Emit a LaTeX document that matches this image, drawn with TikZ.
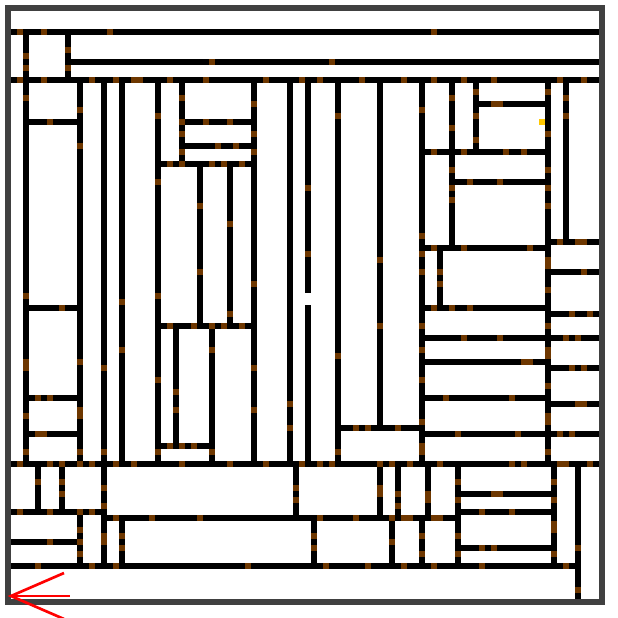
\documentclass[tikz,border=0pt]{standalone}
\usetikzlibrary{positioning}
\definecolor{DoorBrown}{RGB}{110,55,0}
\definecolor{RimGrey}{RGB}{64,64,64}
\definecolor{KeyGold}{RGB}{255,200,0}
\begin{document}
\begin{tikzpicture}[x=0.18cm, y=-0.18cm,
  wall/.style={line width=0.18cm, line cap=rect},
  door/.style={fill=DoorBrown, minimum size=0.18cm, inner sep=0pt},
  rim/.style={draw=RimGrey, line width=0.18cm}]
  \useasboundingbox (-1.3333,-1.3333) rectangle (101.6667,101.6667);
  % Horizontal walls (one unit = one cell)
  \draw[wall] (1,4) -- (98,4) (11,9) -- (98,9) (1,12) -- (98,12)
    (4,19) -- (11,19) (30,19) -- (40,19) (30,23) -- (40,23) (26,26) -- (40,26)
    (79,16) -- (89,16) (70,24) -- (89,24) (75,29) -- (89,29)
    (91,39) -- (98,39) (70,40) -- (89,40) (91,44) -- (98,44)
    (4,50) -- (11,50) (70,50) -- (89,50) (91,51) -- (98,51) (26,53) -- (40,53)
    (70,55) -- (98,55) (70,59) -- (89,59) (91,60) -- (98,60)
    (4,65) -- (11,65) (70,65) -- (89,65) (91,66) -- (98,66)
    (56,70) -- (68,70) (4,71) -- (11,71) (70,71) -- (98,71) (26,73) -- (33,73)
    (1,76) -- (98,76) (76,81) -- (90,81) (1,84) -- (16,84) (76,84) -- (90,84)
    (16,85) -- (75,85) (1,89) -- (11,89) (76,90) -- (90,90) (1,93) -- (94,93);
  % Vertical walls
  \draw[wall] (3,4) -- (3,76) (10,4) -- (10,12) (12,12) -- (12,76) (16,12) -- (16,93)
    (19,12) -- (19,76) (25,12) -- (25,76) (29,12) -- (29,26)
    (32,26) -- (32,53) (37,26) -- (37,53) (28,53) -- (28,73) (34,53) -- (34,76)
    (41,12) -- (41,76) (47,12) -- (47,76) (50,12) -- (50,47) (50,50) -- (50,76)
    (55,12) -- (55,76) (62,12) -- (62,70) (69,12) -- (69,76)
    (74,12) -- (74,40) (78,12) -- (78,24) (72,40) -- (72,50)
    (90,12) -- (90,76) (93,12) -- (93,39)
    (5,76) -- (5,84) (9,76) -- (9,84) (48,76) -- (48,85) (62,76) -- (62,85)
    (65,76) -- (65,85) (70,76) -- (70,85) (75,76) -- (75,93) (91,76) -- (91,93)
    (95,76) -- (95,98) (12,85) -- (12,93) (19,85) -- (19,93) (51,85) -- (51,93)
    (64,85) -- (64,93) (69,85) -- (69,93);
  % Doors in the horizontal walls
  \foreach \c in {2,6,17,71} \node[door] at (\c,4) {};
  \foreach \c in {34,54} \node[door] at (\c,9) {};
  \foreach \c in {2,6,14,18,21,22,27,33,43,49,52,59,66,71,76,81,92,96} \node[door] at (\c,12) {};
  \foreach \c in {81,82} \node[door] at (\c,16) {};
  \foreach \c in {7,33,37} \node[door] at (\c,19) {};
  \foreach \c in {35,38} \node[door] at (\c,23) {};
  \foreach \c in {71,76,83,86} \node[door] at (\c,24) {};
  \foreach \c in {27,29,34,36,39} \node[door] at (\c,26) {};
  \foreach \c in {77,82} \node[door] at (\c,29) {};
  \foreach \c in {92,95,96} \node[door] at (\c,39) {};
  \foreach \c in {71,76,87} \node[door] at (\c,40) {};
  \node[door] at (96,44) {};
  \foreach \c in {9,71,74,77} \node[door] at (\c,50) {};
  \foreach \c in {94,97} \node[door] at (\c,51) {};
  \foreach \c in {27,31,34,36,39} \node[door] at (\c,53) {};
  \foreach \c in {76,82,93,95} \node[door] at (\c,55) {};
  \foreach \c in {86,87} \node[door] at (\c,59) {};
  \foreach \c in {94,96} \node[door] at (\c,60) {};
  \foreach \c in {5,7,73,84} \node[door] at (\c,65) {};
  \foreach \c in {95,96} \node[door] at (\c,66) {};
  \foreach \c in {58,60,65} \node[door] at (\c,70) {};
  \foreach \c in {5,6,75,85,92,94} \node[door] at (\c,71) {};
  \foreach \c in {27,29,31} \node[door] at (\c,73) {};
  \foreach \c in {2,7,9,12,14,18,21,29,37,43,49,52,54,62,64,67,72,84,86,92,93,97} \node[door] at (\c,76) {};
  \foreach \c in {81,82} \node[door] at (\c,81) {};
  \foreach \c in {2,7,12,14,79,84} \node[door] at (\c,84) {};
  \foreach \c in {18,24,32,52,58,64,66,67,71,72} \node[door] at (\c,85) {};
  \node[door] at (7,89) {};
  \foreach \c in {79,81} \node[door] at (\c,90) {};
  \foreach \c in {5,14,18,40,53,60,66,71,79,93} \node[door] at (\c,93) {};
  % Doors in the vertical walls
  \foreach \r in {8,10,15,48,59,60,68,74} \node[door] at (3,\r) {};
  \foreach \r in {79} \node[door] at (5,\r) {};
  \foreach \r in {79,81} \node[door] at (9,\r) {};
  \foreach \r in {7,10} \node[door] at (10,\r) {};
  \foreach \r in {17,23,59,67,68,74,87,89,91} \node[door] at (12,\r) {};
  \foreach \r in {60,74,80,83,88,89} \node[door] at (16,\r) {};
  \foreach \r in {49,57,88,90} \node[door] at (19,\r) {};
  \foreach \r in {18,29,48,62,74} \node[door] at (25,\r) {};
  \foreach \r in {64,67} \node[door] at (28,\r) {};
  \foreach \r in {15,19,21,24} \node[door] at (29,\r) {};
  \foreach \r in {33,44} \node[door] at (32,\r) {};
  \foreach \r in {57,74} \node[door] at (34,\r) {};
  \foreach \r in {36,51} \node[door] at (37,\r) {};
  \foreach \r in {16,21,24,46,60,67} \node[door] at (41,\r) {};
  \foreach \r in {66,70} \node[door] at (47,\r) {};
  \foreach \r in {80,82} \node[door] at (48,\r) {};
  \foreach \r in {30,41} \node[door] at (50,\r) {};
  \foreach \r in {88,90} \node[door] at (51,\r) {};
  \foreach \r in {18,58,74} \node[door] at (55,\r) {};
  \foreach \r in {42,53,80,81} \node[door] at (62,\r) {};
  \foreach \r in {89} \node[door] at (64,\r) {};
  \foreach \r in {81,83} \node[door] at (65,\r) {};
  \foreach \r in {17,38,41,44,53,57,62,69,73,74,88,91} \node[door] at (69,\r) {};
  \foreach \r in {81,82} \node[door] at (70,\r) {};
  \foreach \r in {44,46} \node[door] at (72,\r) {};
  \foreach \r in {15,20,27,30,32} \node[door] at (74,\r) {};
  \foreach \r in {79,82,88,91} \node[door] at (75,\r) {};
  \foreach \r in {14,18,22} \node[door] at (78,\r) {};
  \foreach \r in {14,21,27,30,33,42,43,47,53,57,58,63,68,69,74} \node[door] at (90,\r) {};
  \foreach \r in {79,82,86,87,91} \node[door] at (91,\r) {};
  \foreach \r in {15,18} \node[door] at (93,\r) {};
  \foreach \r in {90,97} \node[door] at (95,\r) {};
  % Key and outer rim
  \node[fill=KeyGold, minimum size=0.18cm, inner sep=0pt] (key) at (89,19) {};
  \draw[rim] (0,0) rectangle (99,99);
  % Exit arrow
  \draw[red, line width=0.08cm] (10.33,98) -- (0.5,98);
  \draw[red, line width=0.08cm] (9.33,94.17) -- (0.5,98) -- (9.33,101.83);
\end{tikzpicture}
\end{document}
